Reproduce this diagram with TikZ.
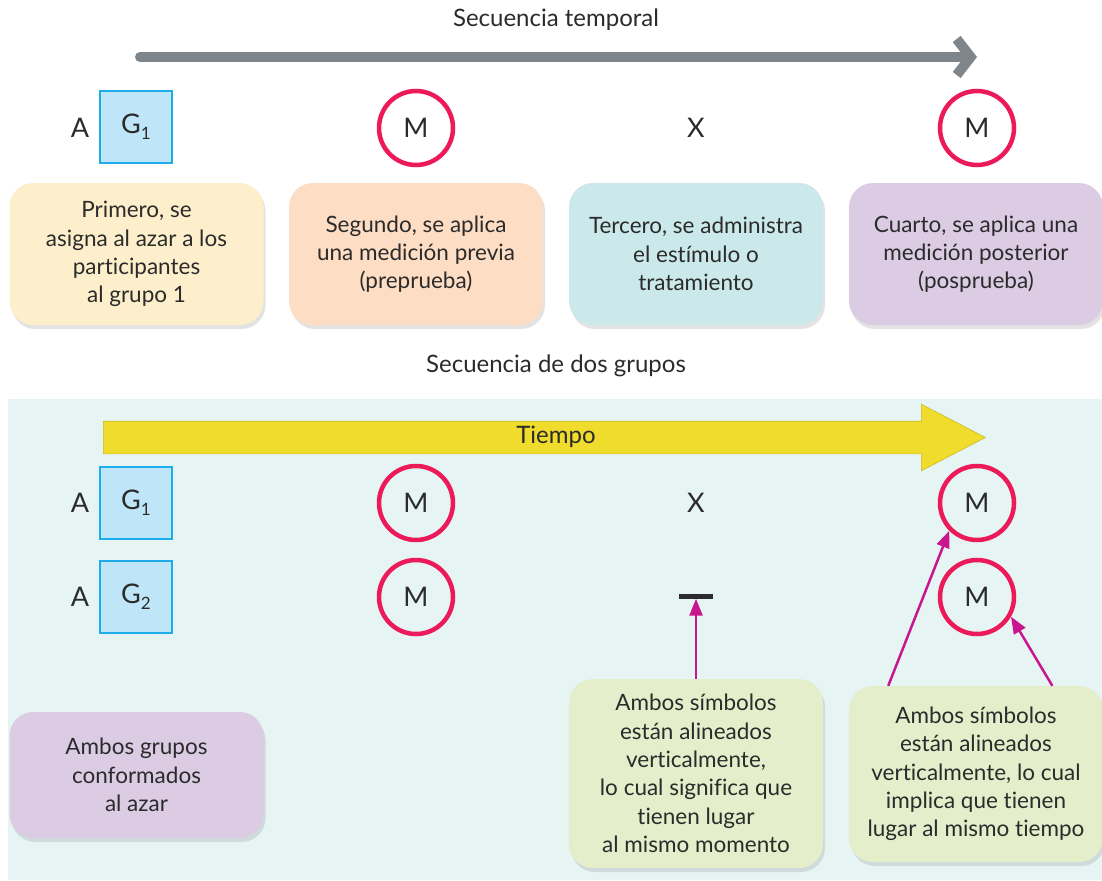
\documentclass[tikz,border=0pt]{standalone}
\usepackage{fontspec}
\setmainfont{Lato}[Ligatures=NoCommon]
\usetikzlibrary{arrows.meta,shapes.arrows,shadows,calc}

\definecolor{txt}{HTML}{2B2B2B}
\definecolor{panel}{HTML}{E6F4F4}
\definecolor{crema}{HTML}{FDEFCB}
\definecolor{durazno}{HTML}{FDDDC3}
\definecolor{turquesa}{HTML}{CBE9EA}
\definecolor{lila}{HTML}{DBCCE4}
\definecolor{verde}{HTML}{E4EECB}
\definecolor{celeste}{HTML}{BEE5F8}
\definecolor{azul}{HTML}{1EADE9}
\definecolor{rojo}{HTML}{EC1A58}
\definecolor{magenta}{HTML}{C8168E}
\definecolor{grisfl}{HTML}{7E858B}
\definecolor{amarillo}{HTML}{F0DC2C}

\newcommand{\grupo}[1]{G\raisebox{-0.45ex}{\fontsize{17}{17}\selectfont #1}}

\begin{document}
\begin{tikzpicture}[x=1pt, y=-1pt, text=txt,
  font=\fontsize{22.5}{28.3}\selectfont,
  titulo/.style={font=\fontsize{24}{28}\selectfont},
  simb/.style={font=\fontsize{27}{30}\selectfont},
  nota/.style={rounded corners=24pt, align=center, fill=#1,
               minimum width=254pt, inner sep=4pt,
               drop shadow={opacity=0.22, shadow xshift=2pt, shadow yshift=-4pt}},
  gbox/.style={draw=azul, fill=celeste, line width=2.5pt,
               minimum size=72pt, inner sep=0pt, simb},
  med/.style={circle, draw=rojo, line width=4.5pt,
              minimum size=74pt, inner sep=0pt, simb},
  flecha/.style={draw=magenta, line width=2.5pt,
                 -{Triangle[length=17pt,width=13pt]}}
]
  \useasboundingbox (0,0) rectangle (1102,880);

  % secuencia temporal
  \node[titulo] (tit1) at (556,20) {Secuencia temporal};
  \coordinate (ini) at (140,57);
  \coordinate (fin) at (977,57);
  \draw[grisfl, line width=10pt, line cap=round,
        -{Straight Barb[length=14pt,width=36pt]}] (ini) -- (fin);

  \node[simb] (a1) at (80,128)  {A};
  \node[gbox] (g1) at (136,127) {\grupo{1}};
  \node[med]  (m1) at (416,128) {M};
  \node[simb] (x1) at (696,128) {X};
  \node[med]  (m2) at (977,128) {M};

  \node[nota=crema, minimum height=142pt]    (n1) at (136.5,254)
        {Primero, se\\asigna al azar a los\\participantes\\al grupo 1};
  \node[nota=durazno, minimum height=142pt]  (n2) at (416,254)
        {Segundo, se aplica\\una medición previa\\(preprueba)};
  \node[nota=turquesa, minimum height=142pt] (n3) at (696,254)
        {Tercero, se administra\\el estímulo o\\tratamiento};
  \node[nota=lila, minimum height=142pt]     (n4) at (976,254)
        {Cuarto, se aplica una\\medición posterior\\(posprueba)};

  % secuencia de dos grupos
  \node[titulo] (tit2) at (556,366) {Secuencia de dos grupos};
  \fill[panel] (8,399) rectangle (1102,880);

  \node[single arrow, fill=amarillo, draw=amarillo!85!black, line width=0.6pt,
        minimum height=882pt, minimum width=66pt, inner sep=16pt,
        single arrow head extend=17pt, single arrow tip angle=55,
        anchor=tail] (tiempo) at (103,437.5) {};
  \node[titulo] (ttiempo) at (556,437) {Tiempo};

  \node[simb] (a2) at (80,503)  {A};
  \node[gbox] (g2) at (136,503) {\grupo{1}};
  \node[med]  (m3) at (416,503) {M};
  \node[simb] (x2) at (696,503) {X};
  \node[med]  (m4) at (977,503) {M};

  \node[simb] (a3) at (80,597)  {A};
  \node[gbox] (g3) at (136,597) {\grupo{2}};
  \node[med]  (m5) at (416,597) {M};
  \node[fill=txt, minimum width=34pt, minimum height=5pt, inner sep=0pt]
        (barra) at (696,596) {};
  \node[med]  (m6) at (977,597) {M};

  \node[nota=lila, minimum height=126pt]  (n5) at (136.5,775)
        {Ambos grupos\\conformados\\al azar};
  \node[nota=verde, minimum height=189pt] (amb1) at (696,773.5)
        {Ambos símbolos\\están alineados\\verticalmente,\\lo cual significa que\\tienen lugar\\al mismo momento};
  \node[nota=verde, minimum height=176pt] (amb2) at (976,774)
        {Ambos símbolos\\están alineados\\verticalmente, lo cual\\implica que tienen\\lugar al mismo tiempo};

  \draw[flecha] (amb1.north) -- (barra.south);
  \draw[flecha] ($(amb2.north west)!0.155!(amb2.north east)$) -- (m4.225);
  \draw[flecha] ($(amb2.north west)!0.80!(amb2.north east)$) -- (m6.330);
\end{tikzpicture}
\end{document}
